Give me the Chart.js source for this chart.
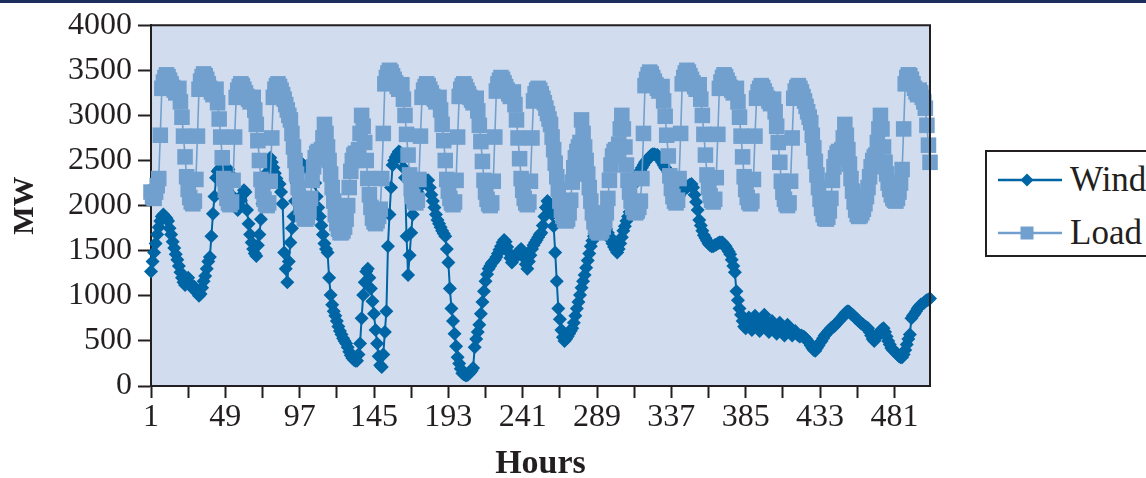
<!DOCTYPE html>
<html><head><meta charset="utf-8">
<script src="https://cdn.jsdelivr.net/npm/chart.js@4.4.0/dist/chart.umd.min.js"></script>
<style>
html,body{margin:0;padding:0;background:#fff;width:1146px;height:478px;overflow:hidden}
#wrap{position:relative;width:1146px;height:478px}
#c{position:absolute;left:0;top:0}
#topbar{position:absolute;left:0;top:0;width:1146px;height:3px;background:#1c2e5c}
#legend{position:absolute;left:985px;top:150px;width:190px;height:103px;border:2.5px solid #231f20;background:#fff;font-family:"Liberation Serif",serif;font-size:35px;color:#231f20}
.row{position:absolute;left:0;height:40px;display:flex;align-items:center;white-space:nowrap}
.row svg{margin-left:11px;display:block}
.row span{margin-left:8px}
</style></head>
<body>
<div id="wrap">
<canvas id="c" width="1146" height="478"></canvas>
<div id="topbar"></div>
<div id="legend">
 <div class="row" style="top:8px"><svg width="64" height="20"><line x1="0" y1="10" x2="64" y2="10" stroke="#0065a5" stroke-width="2.4"/><polygon points="29,3.5 35.5,10 29,16.5 22.5,10" fill="#0065a5"/></svg><span>Wind</span></div>
 <div class="row" style="top:61px"><svg width="64" height="20"><line x1="0" y1="10" x2="64" y2="10" stroke="#72a0ce" stroke-width="2.4"/><rect x="22.5" y="3.5" width="13" height="13" fill="#72a0ce"/></svg><span>Load</span></div>
</div>
</div>
<script>
const hours = [];
for (let h = 1; h <= 504; h++) hours.push(h);
const xTickIdx = [0,24,48,72,96,120,144,168,192,216,240,264,288,312,336,360,384,408,432,456,480];
const yTicks = [0,500,1000,1500,2000,2500,3000,3500,4000];

const wind = [
1270,1380,1480,1580,1680,1760,1830,1880,1900,1880,1860,1830,1750,1680,1600,1530,1460,1400,1330,1260,1200,1150,1120,1180,
1200,1140,1100,1080,1100,1060,1030,1000,1020,1090,1160,1220,1300,1380,1430,1660,1910,2100,2310,2380,2400,2420,2430,2410,
2390,2370,2400,2350,2300,2100,2020,1980,1950,2000,2060,2120,2170,2150,1950,1800,1680,1590,1520,1470,1440,1560,1680,1850,
2020,2200,2350,2450,2500,2530,2480,2420,2360,2300,2250,2240,2150,2020,1480,1300,1150,1380,1590,1750,1880,2050,2250,2400,
2490,2470,2450,2440,2420,2400,2380,2400,2390,2380,2250,2100,1980,1880,1780,1680,1580,1520,1480,1200,1010,900,830,780,
720,660,610,570,530,500,470,430,380,340,310,290,280,280,350,470,750,1010,1150,1270,1300,1200,1080,940,
800,620,470,330,230,210,350,600,830,1550,1900,2200,2450,2500,2540,2570,2600,2590,2520,2420,2310,1660,1230,1450,
1700,1900,2030,2100,2150,2200,2230,2250,2260,2270,2280,2280,2200,2120,2050,1980,1900,1840,1800,1760,1720,1690,1660,1520,
1370,1080,860,720,580,440,320,250,190,140,130,120,120,130,150,170,200,430,520,600,680,800,930,1050,
1160,1240,1300,1330,1360,1380,1400,1430,1470,1510,1550,1590,1620,1600,1540,1480,1420,1370,1400,1430,1460,1480,1500,1520,
1490,1420,1350,1300,1380,1450,1520,1560,1590,1620,1650,1680,1700,1780,1880,1980,2050,2030,1980,1900,1770,1480,1160,860,
740,620,540,500,520,550,580,610,640,700,780,860,930,1010,1090,1160,1230,1310,1390,1470,1550,1610,1660,1700,
1730,1740,1750,1760,1770,1770,1740,1700,1660,1620,1580,1540,1510,1480,1520,1580,1650,1720,1770,1830,1880,1930,1990,2100,
2240,2280,2320,2360,2390,2420,2450,2480,2500,2520,2540,2560,2570,2570,2560,2560,2540,2510,2480,2450,2420,2400,2370,2340,
2310,2250,2190,2130,2090,2110,2140,2170,2180,2190,2200,2220,2230,2240,2200,2120,2040,1950,1840,1780,1720,1670,1640,1610,
1580,1560,1550,1550,1560,1570,1580,1590,1590,1590,1570,1550,1520,1490,1460,1400,1330,1260,1050,950,860,790,720,660,
640,700,760,680,620,700,780,720,650,610,680,750,790,720,640,600,660,720,680,620,580,640,700,660,
600,560,620,680,640,590,560,600,610,580,560,550,560,550,540,520,500,480,450,420,400,390,420,450,
480,500,530,560,580,600,620,640,650,660,680,700,720,740,750,780,800,820,830,820,800,790,770,750,
740,720,700,690,680,660,650,640,600,560,520,500,530,560,590,610,630,640,600,550,500,460,420,400,
390,370,350,330,320,320,350,400,460,520,570,750,780,800,830,860,880,900,910,920,940,950,960,970
];

const load = [
2150,2100,2080,2150,2220,2300,2780,3300,3370,3420,3450,3430,3390,3350,3310,3280,3250,3270,3300,3150,2980,2770,2540,2320,
2180,2090,2040,2020,2050,2290,2770,3290,3380,3430,3460,3440,3400,3350,3300,3260,3230,3260,3290,3140,2960,2760,2530,2300,
2170,2080,2030,2010,2040,2280,2760,3200,3280,3320,3350,3330,3290,3250,3210,3180,3150,3170,3200,3060,2900,2720,2500,2290,
2160,2070,2020,2000,2030,2270,2750,3200,3290,3330,3350,3320,3280,3230,3180,3120,3060,3000,2950,2800,2650,2500,2350,2200,
2080,1980,1900,1860,1850,1870,1940,2080,2280,2430,2530,2580,2600,2570,2620,2750,2900,2800,2650,2500,2350,2200,2050,1900,
1800,1740,1700,1700,1720,1760,1850,2000,2200,2380,2500,2560,2580,2550,2620,2800,3000,2880,2700,2500,2300,2120,1980,1860,
1820,1800,1830,1880,1960,2300,2800,3350,3420,3470,3500,3480,3440,3400,3360,3320,3290,3310,3340,3180,3000,2790,2560,2340,
2190,2100,2050,2030,2060,2290,2770,3200,3280,3320,3350,3330,3290,3250,3210,3180,3150,3170,3200,3060,2900,2720,2500,2290,
2160,2080,2030,2010,2040,2280,2760,3210,3290,3330,3350,3320,3280,3240,3200,3170,3140,3160,3190,3050,2890,2710,2490,2280,
2150,2070,2020,2000,2030,2270,2760,3270,3350,3390,3420,3400,3360,3320,3280,3240,3210,3230,3260,3120,2950,2750,2520,2300,
2170,2080,2030,2010,2040,2270,2750,3160,3240,3280,3300,3280,3240,3190,3140,3080,3020,2960,2900,2760,2620,2470,2320,2180,
2050,1950,1880,1840,1830,1850,1920,2060,2260,2420,2530,2600,2650,2700,2950,2800,2650,2500,2350,2200,2050,1920,1820,1760,
1720,1700,1700,1720,1760,1820,1920,2080,2280,2450,2550,2600,2620,2600,2680,2850,3000,2850,2650,2450,2280,2150,2050,1980,
1930,1920,1940,1980,2050,2300,2800,3330,3400,3450,3480,3460,3420,3380,3340,3300,3270,3290,3320,3160,2990,2780,2550,2330,
2190,2100,2050,2030,2060,2300,2800,3350,3420,3470,3500,3480,3440,3400,3360,3320,3290,3310,3340,3180,3000,2790,2560,2340,
2200,2110,2060,2040,2070,2310,2790,3300,3370,3420,3450,3430,3390,3350,3310,3280,3250,3270,3300,3150,2980,2770,2540,2320,
2180,2090,2040,2020,2050,2290,2770,3190,3260,3300,3330,3310,3270,3230,3190,3160,3130,3150,3180,3040,2880,2700,2480,2270,
2150,2070,2020,2000,2030,2270,2750,3190,3270,3310,3330,3300,3260,3210,3160,3100,3040,2980,2920,2780,2640,2490,2340,2200,
2070,1970,1900,1860,1850,1870,1940,2080,2280,2430,2530,2580,2600,2570,2620,2750,2900,2780,2620,2460,2300,2160,2040,1950,
1900,1880,1890,1920,1960,2020,2100,2200,2320,2430,2500,2540,2560,2700,2850,3000,2850,2650,2480,2350,2250,2180,2120,2080,
2060,2050,2080,2150,2250,2400,2850,3350,3420,3450,3440,3400,3350,3300,3260,3230,3280,3250,3200,3150,3080,2890,2670,2480
];

const TXT = '#231f20';
const FAM = '"Liberation Serif", "Times New Roman", serif';

const plotBg = {
  id: 'plotBg',
  beforeDraw(chart) {
    const {ctx, chartArea: a} = chart;
    ctx.save();
    ctx.fillStyle = '#d1ddef';
    ctx.fillRect(a.left, a.top, a.right - a.left, a.bottom - a.top);
    ctx.restore();
  },
  afterDraw(chart) {
    const {ctx, chartArea: a} = chart;
    ctx.save();
    ctx.strokeStyle = TXT;
    ctx.lineWidth = 2;
    ctx.beginPath();
    ctx.moveTo(a.left, a.top);
    ctx.lineTo(a.right, a.top);
    ctx.lineTo(a.right, a.bottom);
    ctx.stroke();
    ctx.restore();
  }
};

new Chart(document.getElementById('c'), {
  type: 'line',
  data: {
    labels: hours,
    datasets: [
      {label: 'Wind', data: wind, order: 1, borderColor: '#0065a5', backgroundColor: '#0065a5',
       borderWidth: 2, pointStyle: 'rectRot', pointRadius: 7, pointBorderWidth: 0,
       pointBackgroundColor: '#0065a5', tension: 0, clip: false},
      {label: 'Load', data: load, order: 0, borderColor: '#72a0ce', backgroundColor: '#72a0ce',
       borderWidth: 1.6, pointStyle: 'rect', pointRadius: 11, pointBorderWidth: 0,
       pointBackgroundColor: '#72a0ce', tension: 0, clip: false}
    ]
  },
  options: {
    responsive: false,
    animation: false,
    layout: {padding: {top: 18, right: 216, left: 0, bottom: 0}},
    plugins: {legend: {display: false}, tooltip: {enabled: false}},
    scales: {
      x: {
        type: 'category',
        offset: false,
        afterBuildTicks: s => { s.ticks = xTickIdx.map(v => ({value: v})); },
        afterFit: s => { s.height = 92; },
        ticks: {autoSkip: false, maxRotation: 0, minRotation: 0, padding: 0, color: TXT,
          font: {family: FAM, size: 32},
          callback: v => (v % 48 === 0 ? String(hours[v]) : '')},
        grid: {drawOnChartArea: false, drawTicks: true, tickLength: 12, tickColor: TXT, tickWidth: 2},
        border: {display: true, color: TXT, width: 2},
        title: {display: true, text: 'Hours', color: TXT, font: {family: FAM, size: 34, weight: 'bold', lineHeight: 1}, padding: {top: 0, bottom: -3}}
      },
      y: {
        min: 0, max: 4000,
        afterBuildTicks: s => { s.ticks = yTicks.map(v => ({value: v})); },
        afterFit: s => { s.width = 151; },
        ticks: {padding: 6, color: TXT, font: {family: FAM, size: 32}, callback: v => String(v)},
        grid: {drawOnChartArea: false, drawTicks: true, tickLength: 13, tickColor: TXT, tickWidth: 2},
        border: {display: true, color: TXT, width: 2},
        title: {display: true, text: 'MW', color: TXT, font: {family: FAM, size: 30, weight: 'bold', lineHeight: 1}, padding: {top: 10, bottom: 0}}
      }
    }
  },
  plugins: [plotBg]
});
</script>
</body></html>
